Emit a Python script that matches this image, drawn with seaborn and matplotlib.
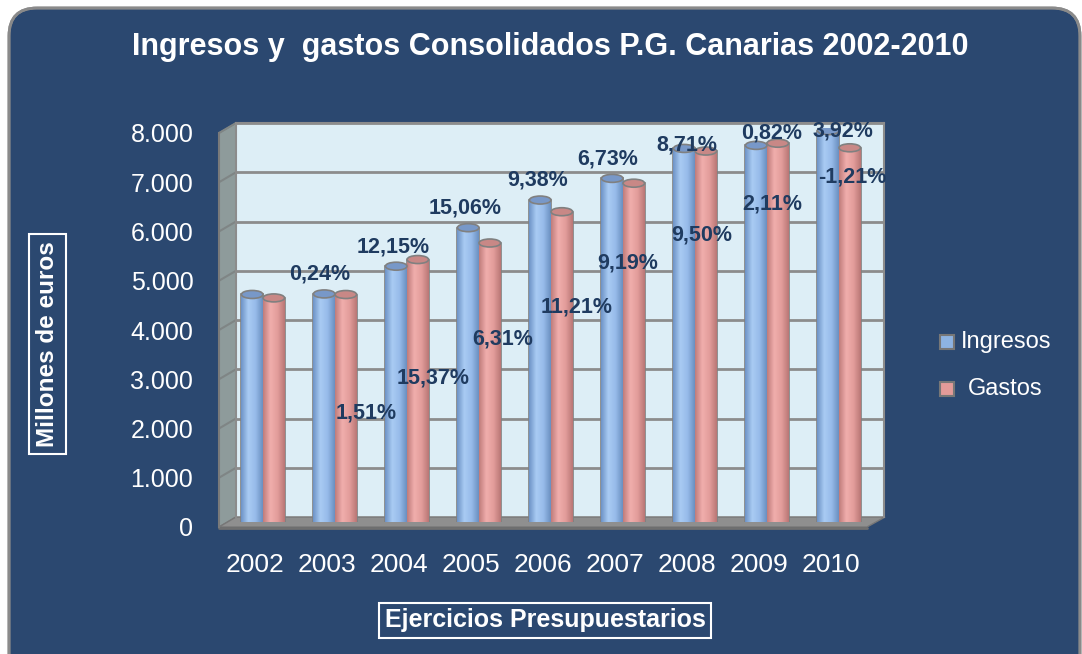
import numpy as np
import pandas as pd
import matplotlib
matplotlib.use("Agg")
import matplotlib.pyplot as plt
import seaborn as sns
from matplotlib import font_manager
from matplotlib.patches import FancyBboxPatch, Polygon, Ellipse, Rectangle
from matplotlib.colors import LinearSegmentedColormap
from matplotlib.ticker import FuncFormatter, MultipleLocator

# data (millones de euros)
years = ['2002', '2003', '2004', '2005', '2006', '2007', '2008', '2009', '2010']
ingresos = [4620, 4631, 5194, 5976, 6537, 6977, 7585, 7647, 7947]
gastos = [4550, 4619, 5329, 5665, 6300, 6879, 7532, 7691, 7598]
ing_pct = ['', '0,24%', '12,15%', '15,06%', '9,38%', '6,73%', '8,71%', '0,82%', '3,92%']
gas_pct = ['', '1,51%', '15,37%', '6,31%', '11,21%', '9,19%', '9,50%', '2,11%', '-1,21%']

# where the % labels sit (moved by hand in the original)
ing_lab_dx = [0, -0.1, -0.08, -0.08, -0.08, -0.1, 0.0, 0.18, 0.17]
ing_lab_y = [0, 5137, 5685, 6477, 7046, 7472, 7756, 8000, 8041]
gas_lab_dx = [0, 0.54, 0.47, 0.44, 0.47, 0.18, 0.21, 0.19, 0.29]
gas_lab_y = [0, 2315, 3025, 3817, 4467, 5360, 5929, 6558, 7107]

df = pd.DataFrame({
    'year': years * 2,
    'valor': ingresos + gastos,
    'serie': ['Ingresos'] * len(years) + ['Gastos'] * len(years),
})

sns.set_style("white")
names = {f.name for f in font_manager.fontManager.ttflist}
narrow = 'Liberation Sans Narrow' if 'Liberation Sans Narrow' in names else 'Liberation Sans'
plt.rcParams['font.family'] = ['Liberation Sans', 'DejaVu Sans']

BLUE = '#8db3e2'
RED = '#e39b99'
NAVY = '#2b4870'
LABEL = '#1f3b60'
W, H = 1082, 654

fig = plt.figure(figsize=(W / 100, H / 100), dpi=100, facecolor='white')


def px_rect(x0, y0, x1, y1):
    return [x0 / W, 1 - y1 / H, (x1 - x0) / W, (y1 - y0) / H]


# background panel with fine dotted texture
bg = fig.add_axes([0, 0, 1, 1], zorder=0)
bg.set_xlim(0, W)
bg.set_ylim(H, 0)
bg.axis('off')
box = FancyBboxPatch((9, 8), 1071, 720, boxstyle='round,pad=0,rounding_size=28',
                     fc=NAVY, ec='#8a8a8a', lw=2)
bg.add_patch(box)
yy, xx = np.mgrid[0:H, 0:W]
mask = ((xx + yy) % 3 == 0) & ((xx // 3 + yy // 2) % 2 == 0)
base = np.array([0x29, 0x46, 0x6c]) / 255
light = np.array([0x5a, 0x78, 0xa0]) / 255
tex = np.where(mask[..., None], light, base)
im = bg.imshow(tex, extent=[0, W, H, 0], interpolation='nearest', aspect='auto')
im.set_clip_path(box)
bg.add_patch(FancyBboxPatch((9, 8), 1071, 720, boxstyle='round,pad=0,rounding_size=28',
                            fc='none', ec='#8a8a8a', lw=2))

# 3D-ish side wall and floor
bg.add_patch(Polygon([(219, 527), (219, 133), (236, 123), (236, 517)],
                     closed=True, fc='#8e9b9b', ec='#7a7a7a', lw=1))
for v in range(1000, 9000, 1000):
    yf = 527 - v * 394 / 8000
    bg.plot([219, 236], [yf, yf - 10], color='#7f8585', lw=1.5)
bg.add_patch(Polygon([(219, 527), (236, 517), (885, 517), (867, 527)],
                     closed=True, fc='#8f8f8f', ec='#777777', lw=1))
bg.plot([219, 867], [528, 528], color='#6f6f6f', lw=2)

# back wall with gridlines
wall = fig.add_axes(px_rect(236, 123, 884, 517), zorder=1)
wall.set_facecolor('#ddeef6')
wall.set_xlim(-0.5, 8.5)
wall.set_ylim(0, 8000)
wall.yaxis.set_major_locator(MultipleLocator(1000))
wall.grid(axis='y', color='#8c8c8c', lw=2)
wall.set_xticks([])
wall.tick_params(axis='y', length=0, labelleft=False)
for s in wall.spines.values():
    s.set_color('#8c8c8c')
    s.set_linewidth(1.5)
wall.spines['bottom'].set_visible(False)

# bars (cylinders)
axb = fig.add_axes(px_rect(227, 128, 875, 522), zorder=3)
sns.barplot(data=df, x='year', y='valor', hue='serie', palette=[BLUE, RED],
            width=0.6, saturation=1, legend=False, ax=axb, edgecolor='#808080', linewidth=1.2)
cm_blue = LinearSegmentedColormap.from_list('b', ['#6d93c6', '#a9cbf3', '#97bbea', '#6a8fc0'])
cm_red = LinearSegmentedColormap.from_list('r', ['#c07c7b', '#f0aeac', '#e39d9b', '#b97776'])
cap_h = 8 * 8000 / 394
for p in list(axb.patches):
    x0, w, h = p.get_x(), p.get_width(), p.get_height()
    is_blue = p.get_facecolor()[2] > p.get_facecolor()[0]
    cmap = cm_blue if is_blue else cm_red
    axb.add_patch(Ellipse((x0 + w / 2, 0), w, cap_h, fc=cmap(0.6), ec='#808080', lw=1, zorder=1.5))
    g = axb.imshow(np.linspace(0, 1, 64)[None, :], extent=[x0, x0 + w, 0, h], cmap=cmap,
                   aspect='auto', zorder=2.5, interpolation='bilinear')
    g.set_clip_path(p)
    axb.add_patch(Ellipse((x0 + w / 2, h), w, cap_h,
                          fc='#7898c8' if is_blue else '#c88886', ec='#808080', lw=1.2, zorder=3))
axb.set_xlim(-0.5, 8.5)
axb.set_ylim(0, 8000)
axb.axis('off')

# front axis: ticks and labels
ax = fig.add_axes(px_rect(219, 133, 867, 527), zorder=4)
ax.patch.set_alpha(0)
ax.set_xlim(-0.5, 8.5)
ax.set_ylim(0, 8000)
for s in ['top', 'right', 'bottom']:
    ax.spines[s].set_visible(False)
ax.spines['left'].set_color('#7a7a7a')
ax.spines['left'].set_linewidth(1.5)
ax.yaxis.set_major_locator(MultipleLocator(1000))
ax.yaxis.set_major_formatter(FuncFormatter(lambda v, _: f'{int(v):,}'.replace(',', '.')))
ax.tick_params(axis='y', colors='#8a8a8a', length=6.5, width=1.5, pad=12,
               labelcolor='white', labelsize=18)
ax.set_xticks(range(len(years)))
ax.set_xticklabels(years, fontfamily=[narrow, 'DejaVu Sans'], fontsize=19, color='white')
ax.set_xticks(np.arange(-0.5, 9, 1), minor=True)
ax.tick_params(axis='x', which='major', length=0, pad=19)
ax.tick_params(axis='x', which='minor', length=9, width=1.5, color='#8a8a8a')

for i in range(len(years)):
    if ing_pct[i]:
        ax.text(i + ing_lab_dx[i], ing_lab_y[i], ing_pct[i], ha='center', va='center',
                fontsize=15.5, fontweight='bold', color=LABEL, clip_on=False, zorder=6)
    if gas_pct[i]:
        ax.text(i + gas_lab_dx[i], gas_lab_y[i], gas_pct[i], ha='center', va='center',
                fontsize=15.5, fontweight='bold', color=LABEL, clip_on=False, zorder=6)

# title, axis titles and legend on the panel
bg.text(550, 47, 'Ingresos y  gastos Consolidados P.G. Canarias 2002-2010', ha='center',
        va='center', color='white', fontsize=24 if narrow != 'Liberation Sans' else 22,
        fontweight='bold', fontfamily=[narrow, 'DejaVu Sans'])
bg.text(47.5, 344, 'Millones de euros', rotation=90, ha='center', va='center', color='white',
        fontsize=17.5, fontweight='bold',
        bbox=dict(boxstyle='square,pad=0.3', fc='none', ec='white', lw=1.5))
bg.text(545, 620, 'Ejercicios Presupuestarios', ha='center', va='center', color='white',
        fontsize=18, fontweight='bold', fontfamily=[narrow, 'DejaVu Sans'],
        bbox=dict(boxstyle='square,pad=0.22', fc='none', ec='white', lw=1.5))
bg.add_patch(Rectangle((940, 335), 14, 14, fc=BLUE, ec='#777777', lw=1.5))
bg.add_patch(Rectangle((940, 382), 14, 14, fc=RED, ec='#777777', lw=1.5))
bg.text(961, 342, 'Ingresos', va='center', ha='left', color='white', fontsize=17)
bg.text(968, 389, 'Gastos', va='center', ha='left', color='white', fontsize=17)

fig.savefig('out.png', dpi=100)
